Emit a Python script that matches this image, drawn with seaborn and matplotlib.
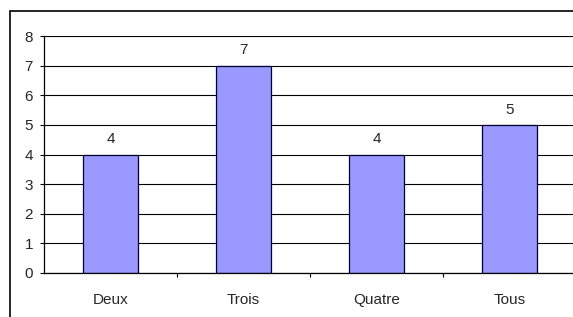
import matplotlib
matplotlib.use("Agg")
import matplotlib.pyplot as plt
import seaborn as sns
from matplotlib.patches import Rectangle

# Data
categories = ["Deux", "Trois", "Quatre", "Tous"]
values = [4, 7, 4, 5]

sns.set_style("white")
plt.rcParams['font.family'] = ['Liberation Sans', 'DejaVu Sans']

fig = plt.figure(figsize=(5.73, 3.17), dpi=100)
ax = fig.add_axes([44/573, 44/317, 532/573, 237/317])

sns.barplot(x=categories, y=values, color="#9999FF", saturation=1,
            width=0.41, edgecolor="#000033", linewidth=0.9, ax=ax)

# Value labels above bars
ax.bar_label(ax.containers[0], labels=[str(v) for v in values],
             padding=6, fontsize=11)

ax.set_ylim(0, 8)
ax.set_xlim(-0.5, 3.5)
ax.set_yticks(range(0, 9))
ax.yaxis.grid(True, color="black", linewidth=0.8)
ax.set_axisbelow(True)

for side in ["top", "right"]:
    ax.spines[side].set_visible(False)
for side in ["left", "bottom"]:
    ax.spines[side].set_color("black")
    ax.spines[side].set_linewidth(0.9)

ax.tick_params(axis="y", which="major", left=True, length=3, width=0.8,
               color="black", pad=5, labelsize=11)
ax.tick_params(axis="x", which="major", bottom=False, pad=11, labelsize=11)
ax.set_xticks([0.5, 1.5, 2.5], minor=True)
ax.tick_params(axis="x", which="minor", bottom=True, length=3, width=0.8,
               color="black")
ax.set_xlabel("")
ax.set_ylabel("")

# Outer chart border (extends past the figure on the right and bottom)
fig.patches.append(Rectangle((10/573, -0.1), 1.2, (317-11)/317 + 0.1,
                             transform=fig.transFigure, fill=False,
                             edgecolor="black", linewidth=1.2))

fig.savefig("out.png", dpi=100)
